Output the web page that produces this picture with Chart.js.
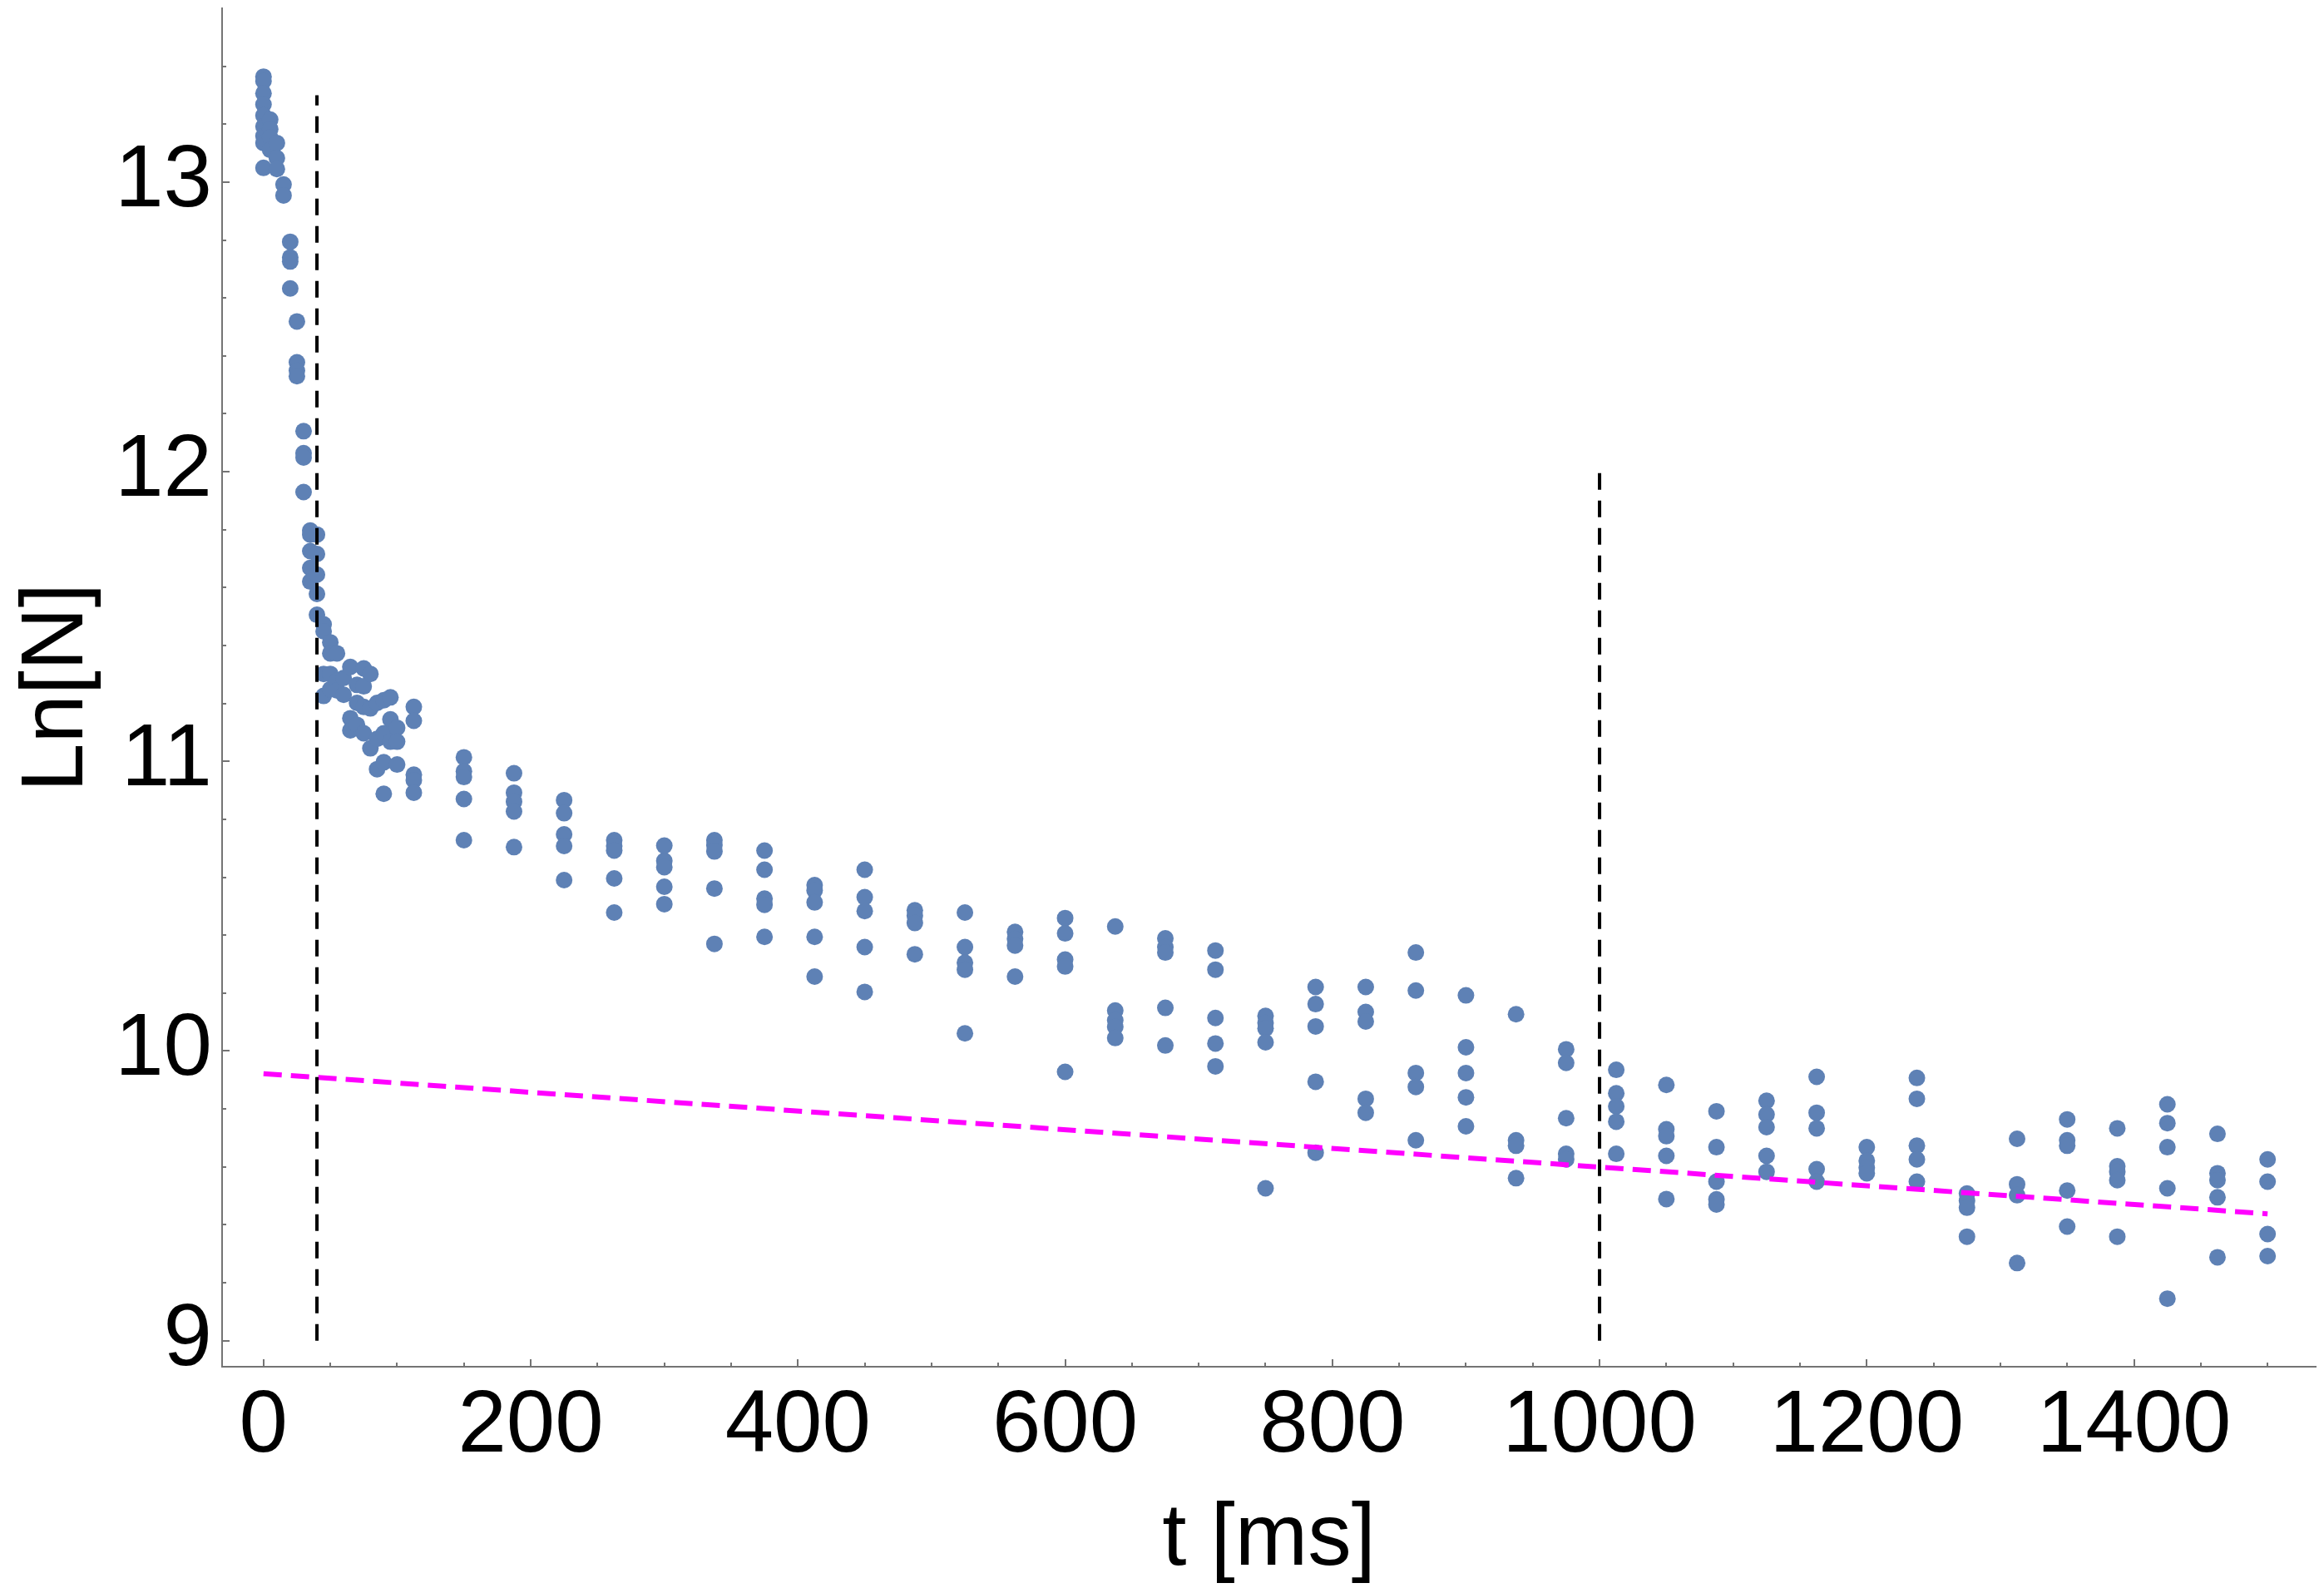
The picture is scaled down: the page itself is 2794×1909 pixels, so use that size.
<!DOCTYPE html>
<html>
<head>
<meta charset="utf-8">
<script src="https://cdn.jsdelivr.net/npm/chart.js@4.4.1/dist/chart.umd.min.js"></script>
<style>
  html, body { margin: 0; padding: 0; background: #ffffff; }
  #wrap { width: 2794px; height: 1909px; }
</style>
</head>
<body>
<div id="wrap"><canvas id="c" width="2794" height="1909"></canvas></div>
<script>
// ---- data ----
const sampleTimes = [0, 5, 10, 15, 20, 25, 30, 35, 40, 45, 50, 55, 60, 65, 70, 75, 80, 85, 90, 95, 100, 112.5,
  150, 187.5, 225, 262.5, 300, 337.5, 375, 412.5, 450, 487.5, 525, 562.5, 600, 637.5, 675, 712.5, 750, 787.5,
  825, 862.5, 900, 937.5, 975, 1012.5, 1050, 1087.5, 1125, 1162.5, 1200, 1237.5, 1275, 1312.5, 1350, 1387.5,
  1425, 1462.5, 1500];

const lnNValues = [
  [13.364, 13.349, 13.306, 13.268, 13.230, 13.192, 13.159, 13.135, 13.049],
  [13.216, 13.183, 13.154, 13.111],
  [13.135, 13.083, 13.045],
  [12.992, 12.954],
  [12.794, 12.740, 12.726, 12.633],
  [12.519, 12.378, 12.349, 12.330],
  [12.140, 12.064, 12.049, 11.930],
  [11.797, 11.783, 11.726, 11.668, 11.621],
  [11.783, 11.716, 11.645, 11.578, 11.506],
  [11.473, 11.449, 11.302, 11.226],
  [11.411, 11.373, 11.302, 11.249],
  [11.373, 11.278, 11.245],
  [11.288, 11.230],
  [11.326, 11.149, 11.107],
  [11.264, 11.202, 11.126],
  [11.321, 11.259, 11.188, 11.097],
  [11.302, 11.183, 11.045],
  [11.202, 11.078, 10.973],
  [11.211, 11.097, 10.997, 10.888],
  [11.221, 11.145, 11.068],
  [11.116, 11.068, 10.989],
  [11.188, 11.140, 10.954, 10.935, 10.892],
  [11.014, 10.966, 10.946, 10.870, 10.728],
  [10.959, 10.892, 10.861, 10.827, 10.704],
  [10.866, 10.821, 10.748, 10.708, 10.590],
  [10.728, 10.708, 10.692, 10.596, 10.478],
  [10.709, 10.657, 10.635, 10.567, 10.507],
  [10.728, 10.711, 10.689, 10.561, 10.370],
  [10.692, 10.626, 10.526, 10.505, 10.394],
  [10.573, 10.554, 10.513, 10.394, 10.257],
  [10.626, 10.531, 10.483, 10.359, 10.204],
  [10.486, 10.467, 10.442, 10.334],
  [10.478, 10.359, 10.305, 10.281, 10.061],
  [10.411, 10.387, 10.364, 10.257],
  [10.459, 10.406, 10.316, 10.292, 9.928],
  [10.430, 10.140, 10.106, 10.083, 10.045],
  [10.389, 10.359, 10.340, 10.149, 10.019],
  [10.347, 10.281, 10.114, 10.026, 9.947],
  [10.121, 10.097, 10.078, 10.030, 9.526],
  [10.221, 10.162, 10.085, 9.894, 9.649],
  [10.221, 10.135, 10.102, 9.835, 9.787],
  [10.340, 10.209, 9.924, 9.876, 9.692],
  [10.192, 10.013, 9.924, 9.840, 9.740],
  [10.127, 9.692, 9.673, 9.561],
  [10.006, 9.959, 9.768, 9.645, 9.626],
  [9.935, 9.854, 9.809, 9.756, 9.645],
  [9.883, 9.730, 9.706, 9.638, 9.489],
  [9.792, 9.668, 9.549, 9.488, 9.470],
  [9.828, 9.781, 9.737, 9.638, 9.583],
  [9.911, 9.787, 9.733, 9.592, 9.549],
  [9.668, 9.621, 9.597, 9.578],
  [9.907, 9.835, 9.673, 9.626, 9.549],
  [9.508, 9.483, 9.459, 9.359],
  [9.697, 9.540, 9.502, 9.268],
  [9.764, 9.692, 9.673, 9.518, 9.394],
  [9.733, 9.602, 9.583, 9.554, 9.359],
  [9.816, 9.751, 9.668, 9.526, 9.145],
  [9.714, 9.578, 9.554, 9.495, 9.288],
  [9.626, 9.549, 9.368, 9.292]
];

// fitted line (magenta dashed)
const fitT = [0, 1500];
const fitLnN = [9.922, 9.438];

// vertical dashed markers
const markerT = [40, 1000];
const markerTop = [13.3, 12.0];
const markerBottom = 9.0;

// axis ranges / tick labels
const xMin = -31, xMax = 1536;
const yMin = 8.91, yMax = 13.6;
const xTickLabels = [0, 200, 400, 600, 800, 1000, 1200, 1400];
const yTickLabels = [9, 10, 11, 12, 13];
const xMinorStep = 50, xMinorMax = 1500;
const yMinorStep = 0.2, yMinorMax = 13.4;

// ---- build datasets ----
const points = [];
sampleTimes.forEach((t, i) => lnNValues[i].forEach(v => points.push({ x: t, y: v })));

const axisColor = '#747474';
const datasets = [];
markerT.forEach((t, i) => {
  datasets.push({
    type: 'line',
    data: [{ x: t, y: markerBottom }, { x: t, y: markerTop[i] }],
    borderColor: '#000000', borderWidth: 4, borderDash: [20, 13],
    pointRadius: 0, fill: false, order: 0
  });
});
datasets.push({
  type: 'line',
  data: fitT.map((t, i) => ({ x: t, y: fitLnN[i] })),
  borderColor: '#ff00ff', borderWidth: 6, borderDash: [22, 11],
  pointRadius: 0, fill: false, order: 0
});
datasets.push({
  type: 'scatter',
  data: points,
  backgroundColor: '#5E81B5', borderWidth: 0,
  pointRadius: 10, pointHoverRadius: 10, order: 1
});

const innerTicks = {
  id: 'innerTicks',
  afterDraw(chart) {
    const { ctx, chartArea, scales } = chart;
    const x = scales.x, y = scales.y;
    ctx.save();
    ctx.strokeStyle = axisColor;
    ctx.lineWidth = 2;
    ctx.beginPath();
    for (let k = 0; k * xMinorStep <= xMinorMax; k++) {
      const v = k * xMinorStep;
      const px = Math.round(x.getPixelForValue(v));
      const len = xTickLabels.includes(v) ? 9 : 5;
      ctx.moveTo(px, chartArea.bottom);
      ctx.lineTo(px, chartArea.bottom - len);
    }
    for (let k = 0; 9 + k * yMinorStep <= yMinorMax + 1e-9; k++) {
      const v = 9 + k * yMinorStep;
      const py = Math.round(y.getPixelForValue(v));
      const len = (k % 5 === 0) ? 9 : 5;
      ctx.moveTo(chartArea.left, py);
      ctx.lineTo(chartArea.left + len, py);
    }
    ctx.stroke();
    ctx.restore();
  }
};

const tickFont = { family: '"Liberation Sans", Arial, sans-serif', size: 105 };
const titleFont = { family: '"Liberation Sans", Arial, sans-serif', size: 105, lineHeight: 1 };

new Chart(document.getElementById('c'), {
  data: { datasets },
  plugins: [innerTicks],
  options: {
    responsive: false,
    animation: false,
    devicePixelRatio: 1,
    layout: { padding: 0 },
    plugins: { legend: { display: false }, tooltip: { enabled: false } },
    scales: {
      x: {
        type: 'linear', position: 'bottom', min: xMin, max: xMax,
        grid: { display: false, drawTicks: false },
        border: { display: true, color: axisColor, width: 2 },
        afterBuildTicks(s) { s.ticks = xTickLabels.map(v => ({ value: v })); },
        ticks: { color: '#000', font: tickFont, padding: 10, maxRotation: 0, autoSkip: false,
                 callback: v => String(v) },
        title: { display: true, text: 't [ms]', color: '#000', font: titleFont, padding: { top: 0, bottom: 4 } },
        afterFit(s) { s.height = 266; s.paddingLeft = 0; s.paddingRight = 0; }
      },
      y: {
        type: 'linear', position: 'left', min: yMin, max: yMax,
        grid: { display: false, drawTicks: false },
        border: { display: true, color: axisColor, width: 2 },
        afterBuildTicks(s) { s.ticks = yTickLabels.map(v => ({ value: v })); },
        ticks: { color: '#000', font: tickFont, padding: 12, autoSkip: false,
                 callback: v => String(v) },
        title: { display: true, text: 'Ln[N]', color: '#000', font: titleFont, padding: { top: 18, bottom: 0 } },
        afterFit(s) { s.width = 267; s.paddingTop = 0; s.paddingBottom = 0; }
      }
    }
  }
});
</script>
</body>
</html>
